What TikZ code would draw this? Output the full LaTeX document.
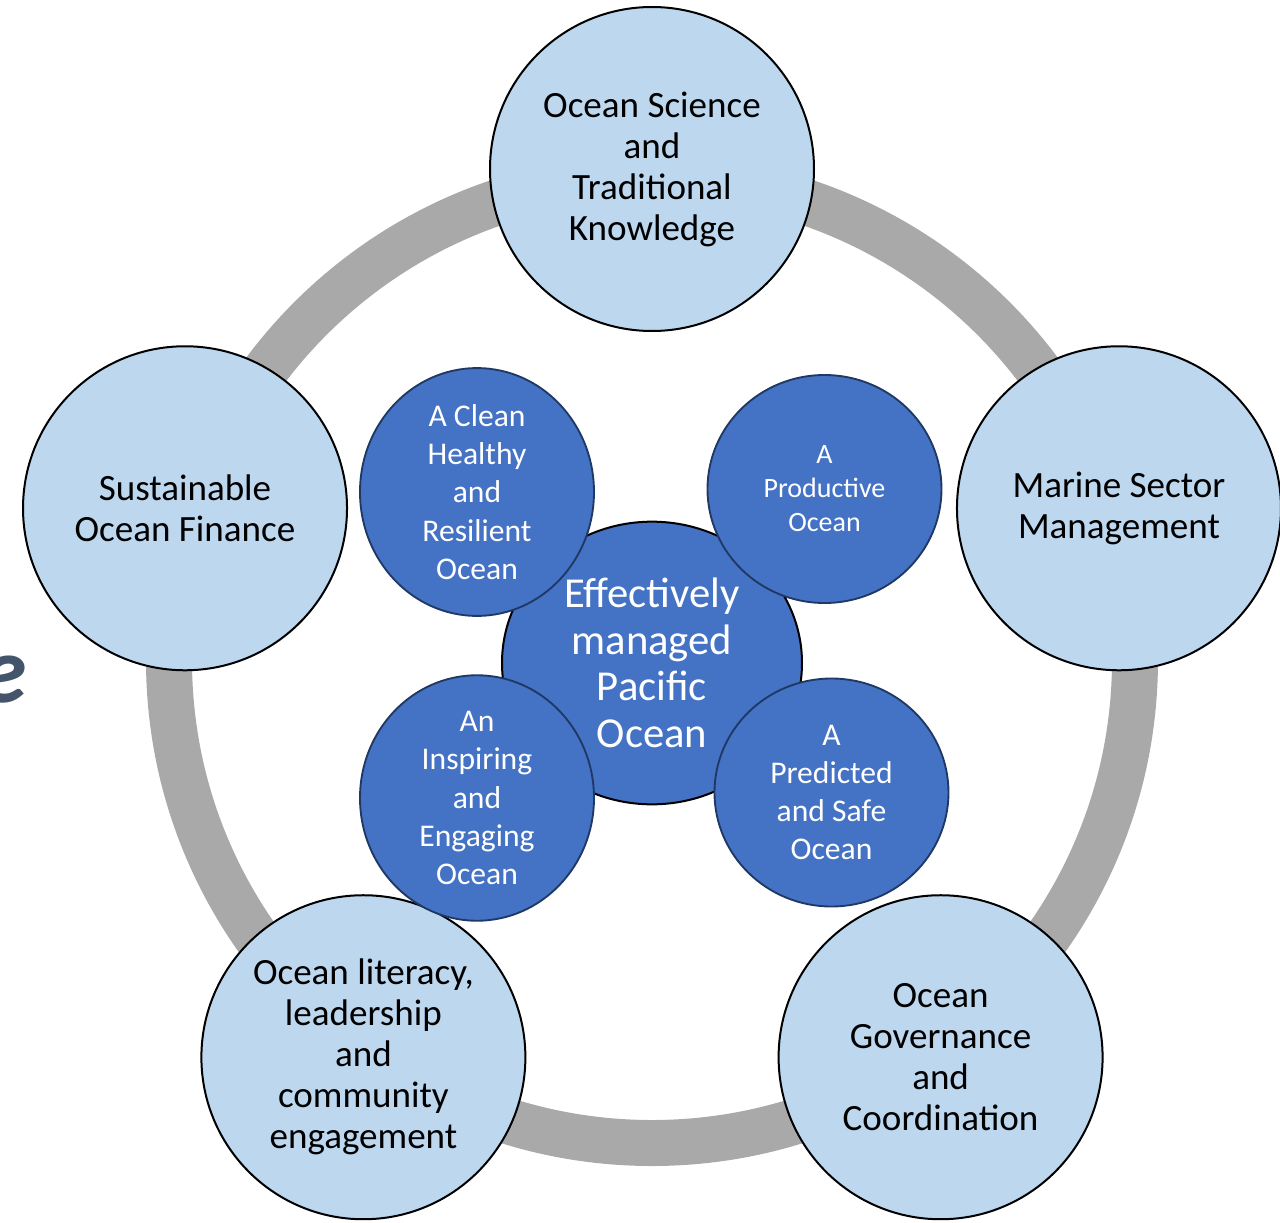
\documentclass[tikz,border=0pt]{standalone}
\usepackage{fontspec}
\setmainfont{Carlito}
\usetikzlibrary{shapes.geometric}

\definecolor{ringgray}{HTML}{A9A9A9}
\definecolor{paleblue}{HTML}{BDD7EE}
\definecolor{deepblue}{HTML}{4472C4}
\definecolor{navyline}{HTML}{203864}
\definecolor{slate}{HTML}{44546A}

\begin{document}
\begin{tikzpicture}[x=.75pt, y=.75pt,
  pillar/.style={draw, circle, fill=paleblue, line width=1.5pt, inner sep=0pt, minimum size=243pt, align=center, font=\fontsize{27.8}{30.75}\selectfont},
  hub/.style={draw, ellipse, fill=deepblue, line width=1.5pt, inner sep=0pt, minimum width=225pt, minimum height=212pt, align=center, text=white, font=\fontsize{32}{35}\selectfont},
  goal/.style={draw=navyline, ellipse, fill=deepblue, line width=1.4pt, inner sep=0pt, minimum width=175.5pt, minimum height=171pt, align=center, text=white, font=\fontsize{23.7}{28.7}\selectfont}]
\useasboundingbox (-652,-562) rectangle (628,660);
\clip (-652,-562) rectangle (628,660);
\draw[ringgray, line width=34.5pt] (0,0) circle (483);
\node[pillar] (science) at (90:491) {Ocean Science\\and\\Traditional\\Knowledge};
\node[pillar] (sector) at (18:491) {Marine Sector\\Management};
\node[pillar] (governance) at (306:491) {Ocean\\Governance\\and\\Coordination};
\node[pillar] (literacy) at (234:491) {Ocean literacy,\\leadership\\and\\community\\engagement};
\node[pillar] (finance) at (162:491) {Sustainable\\Ocean Finance};
\node[hub] (pacific) at (0,-3) {Effectively\\managed\\Pacific\\Ocean};
\node[goal] (clean) at (-175,168) {A Clean\\Healthy\\and\\Resilient\\Ocean};
\node[goal, font=\fontsize{21}{25.5}\selectfont] (productive) at (172.5,171) {A\\Productive\\Ocean};
\node[goal] (inspiring) at (-175,-138) {An\\Inspiring\\and\\Engaging\\Ocean};
\node[goal] (predicted) at (179.5,-132.5) {A\\Predicted\\and Safe\\Ocean};
\node[anchor=base east, inner sep=0pt, text=slate, font=\fontsize{71}{80}\selectfont\bfseries\itshape] (cut) at (-625,-42) {e};
\end{tikzpicture}
\end{document}
